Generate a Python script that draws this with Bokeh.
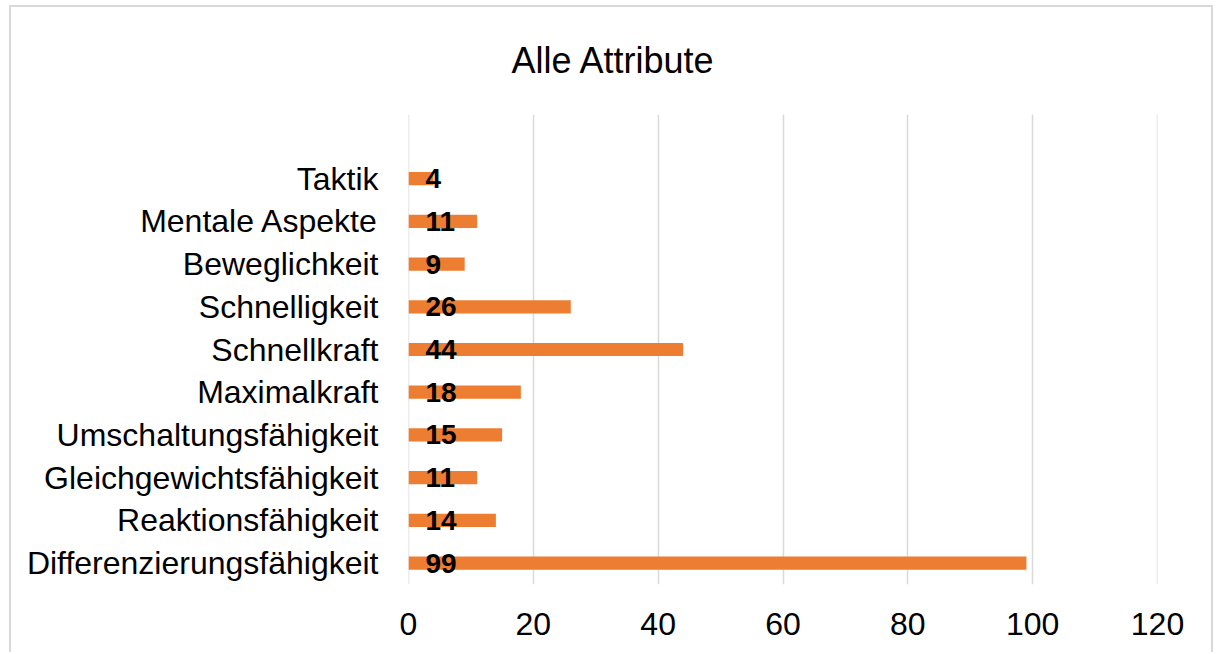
from bokeh.plotting import figure
from bokeh.models import ColumnDataSource, Range1d, FactorRange, FixedTicker, Title, Span
from bokeh.core.properties import value
from bokeh.embed import file_html
from bokeh.resources import INLINE

categories = ["Differenzierungsfähigkeit", "Reaktionsfähigkeit", "Gleichgewichtsfähigkeit",
              "Umschaltungsfähigkeit", "Maximalkraft", "Schnellkraft", "Schnelligkeit",
              "Beweglichkeit", "Mentale Aspekte", "Taktik"]
counts = [99, 14, 11, 15, 18, 44, 26, 9, 11, 4]
x_ticks = [0, 20, 40, 60, 80, 100, 120]
title_text = "Alle Attribute"

FONT = "Liberation Sans"
GRID = "#D9D9D9"

src = ColumnDataSource(dict(cat=categories, n=counts, lbl=[str(v) for v in counts]))

W, H = 1204, 647
BL, BR, BT, BB = 397, 58, 106, 70

p = figure(width=W, height=H, output_backend="svg", toolbar_location=None,
           y_range=FactorRange(factors=categories + [" "], range_padding=0),
           x_range=Range1d(x_ticks[0], x_ticks[-1]),
           min_border_left=BL, min_border_right=BR, min_border_top=BT, min_border_bottom=BB,
           margin=(5, 0, 0, 9),
           styles={"border-left": "2px solid #D9D9D9", "border-top": "2px solid #D9D9D9",
                   "border-right": "2px solid #D9D9D9"})

# title centred over the whole chart area: shift from the frame's left edge
p.add_layout(Title(text=title_text, align="left", offset=103, vertical_align="top",
                   standoff=64, text_font=FONT, text_font_size="36px",
                   text_font_style="normal", text_color="#000000"), "above")

p.hbar(y="cat", right="n", left=0, height=0.31, source=src, color="#ED7D31", line_color=None)
p.text(x=0, y="cat", text="lbl", source=src, x_offset=17, text_align="left",
       text_baseline="middle", text_font=value(FONT), text_font_size="28px",
       text_font_style="bold", text_color="#000000")

p.outline_line_color = None
p.background_fill_color = "white"
p.border_fill_color = "white"
p.ygrid.grid_line_color = None
p.xgrid.grid_line_color = GRID
p.xgrid.grid_line_width = 1.5
p.xaxis.ticker = FixedTicker(ticks=x_ticks)
for t in (x_ticks[0], x_ticks[-1]):
    p.add_layout(Span(location=t, dimension="height", line_color=GRID, line_width=1.5,
                      level="underlay"))

for ax in (p.xaxis[0], p.yaxis[0]):
    ax.axis_line_color = None
    ax.major_tick_line_color = None
    ax.minor_tick_line_color = None
    ax.major_label_text_font = FONT
    ax.major_label_text_font_size = "32px"
    ax.major_label_text_color = "#000000"
p.xaxis.major_label_standoff = 22
p.yaxis.major_label_standoff = 24

open("out.html", "w").write(file_html(p, INLINE))
